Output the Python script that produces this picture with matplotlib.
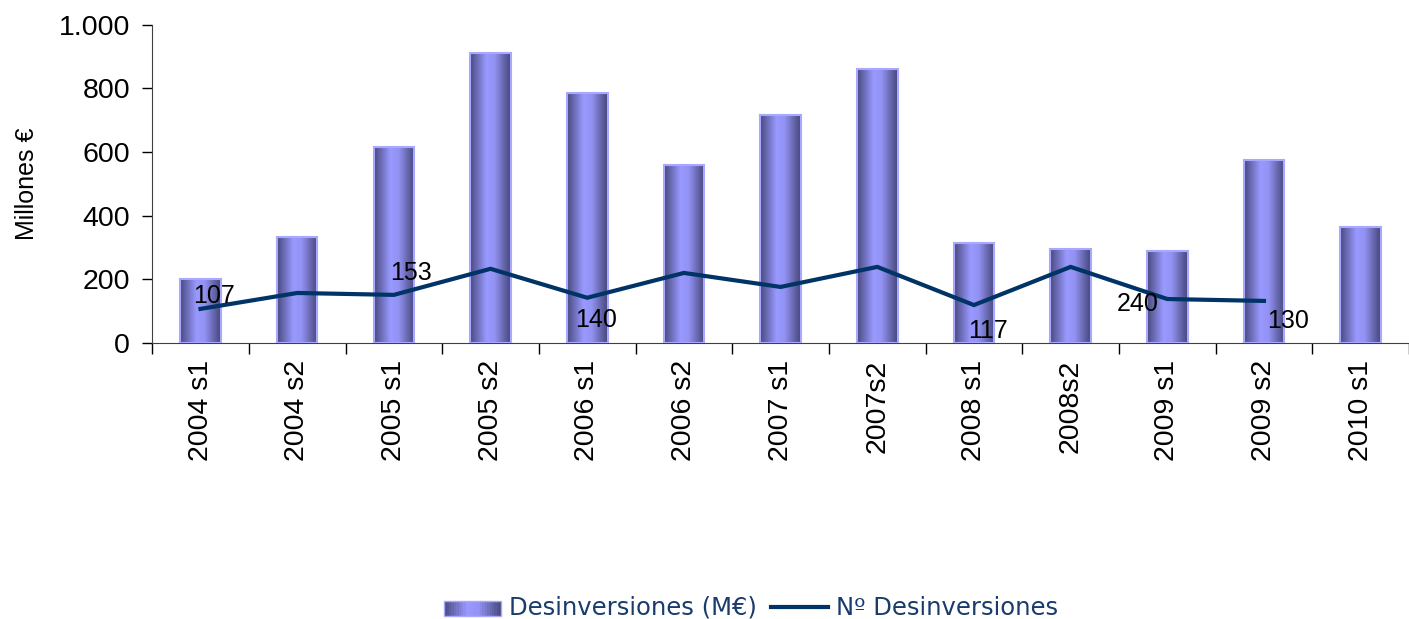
import numpy as np
import matplotlib
matplotlib.use('Agg')
import matplotlib.pyplot as plt
from matplotlib.patches import Rectangle
from matplotlib.lines import Line2D
from matplotlib.legend_handler import HandlerBase
from matplotlib.colors import LinearSegmentedColormap

categories = ['2004 s1', '2004 s2', '2005 s1', '2005 s2', '2006 s1', '2006 s2',
              '2007 s1', '2007s2', '2008 s1', '2008s2', '2009 s1', '2009 s2', '2010 s1']
desinv_meur = [200, 333, 616, 912, 786, 560, 717, 862, 314, 296, 289, 575, 365]
num_desinv = [107, 157, 151, 233, 142, 220, 176, 239, 119, 239, 138, 132]

# data labels as shown (they sit off their points in the original)
lab_idx = [0, 2, 4, 8, 10, 11]
lab_txt = ['107', '153', '140', '117', '240', '130']
lab_dx = [0.14, 0.18, 0.09, 0.15, -0.31, 0.25]
lab_dy = [40, 70, -70, -82, -16, -63]

plt.rcParams['font.family'] = ['Liberation Sans', 'DejaVu Sans']

cmap = LinearSegmentedColormap.from_list(
    'cyl', [(0.0, '#4a4a80'), (0.4, '#9999ff'), (0.6, '#9393f5'), (1.0, '#46467a')])
grad = np.linspace(0, 1, 64).reshape(1, -1)

fig = plt.figure(figsize=(14.09, 6.19), dpi=100)
ax = fig.add_axes([0.108, 0.446, 0.892, 0.514])

x = np.arange(len(categories))
w = 0.42
for i, v in enumerate(desinv_meur):
    ax.imshow(grad, cmap=cmap, aspect='auto', extent=(i - w / 2, i + w / 2, 0, v),
              zorder=2, interpolation='bilinear')
    ax.add_patch(Rectangle((i - w / 2, 0), w, v, fill=False, ec='#a8a8ff', lw=1.5, zorder=3))

ax.plot(x[:len(num_desinv)], num_desinv, color='#003366', lw=3, zorder=4,
        solid_joinstyle='miter')

for i, t, dx, dy in zip(lab_idx, lab_txt, lab_dx, lab_dy):
    ax.text(i + dx, num_desinv[i] + dy, t, fontsize=18, ha='center', va='center', zorder=5)

ax.set_xlim(-0.5, len(categories) - 0.5)
ax.set_ylim(0, 1000)
ax.set_yticks([0, 200, 400, 600, 800, 1000])
ax.set_yticklabels(['0', '200', '400', '600', '800', '1.000'], fontsize=20.5)
ax.set_xticks(x)
ax.set_xticklabels(categories, rotation=90, fontsize=20.5)
ax.set_xticks(np.arange(-0.5, len(categories)), minor=True)
ax.tick_params(axis='x', which='major', length=0, pad=12)
ax.tick_params(axis='x', which='minor', length=8, width=1, direction='out')
ax.tick_params(axis='y', length=7, width=1, direction='out', pad=9)
for s in ['top', 'right']:
    ax.spines[s].set_visible(False)
ax.spines['left'].set_color('#404040')
ax.spines['bottom'].set_color('#404040')
ax.set_ylabel('Millones €', fontsize=18, labelpad=14)


class GradHandler(HandlerBase):
    def create_artists(self, legend, orig_handle, xd, yd, width, height, fontsize, trans):
        arts = []
        n = 24
        for k in range(n):
            c = cmap((k + 0.5) / n)
            r = Rectangle((xd + width * k / n, yd), width / n, height, fc=c, ec='none',
                          transform=trans)
            arts.append(r)
        arts.append(Rectangle((xd, yd), width, height, fill=False, ec='#a8a8ff', lw=1,
                              transform=trans))
        return arts


bar_h = Rectangle((0, 0), 1, 1)
line_h = Line2D([], [], color='#003366', lw=3)
leg = fig.legend([bar_h, line_h], ['Desinversiones (M€)', 'Nº Desinversiones'],
                 handler_map={Rectangle: GradHandler()}, loc='center',
                 bbox_to_anchor=(0.533, 0.018), ncol=2, frameon=False,
                 prop={'family': 'DejaVu Sans', 'size': 17.5}, handlelength=2.35,
                 handleheight=0.55, columnspacing=0.6, handletextpad=0.3,
                 borderpad=0.1)
for t in leg.get_texts():
    t.set_color('#1a3c6c')

fig.savefig('out.png', dpi=100)
